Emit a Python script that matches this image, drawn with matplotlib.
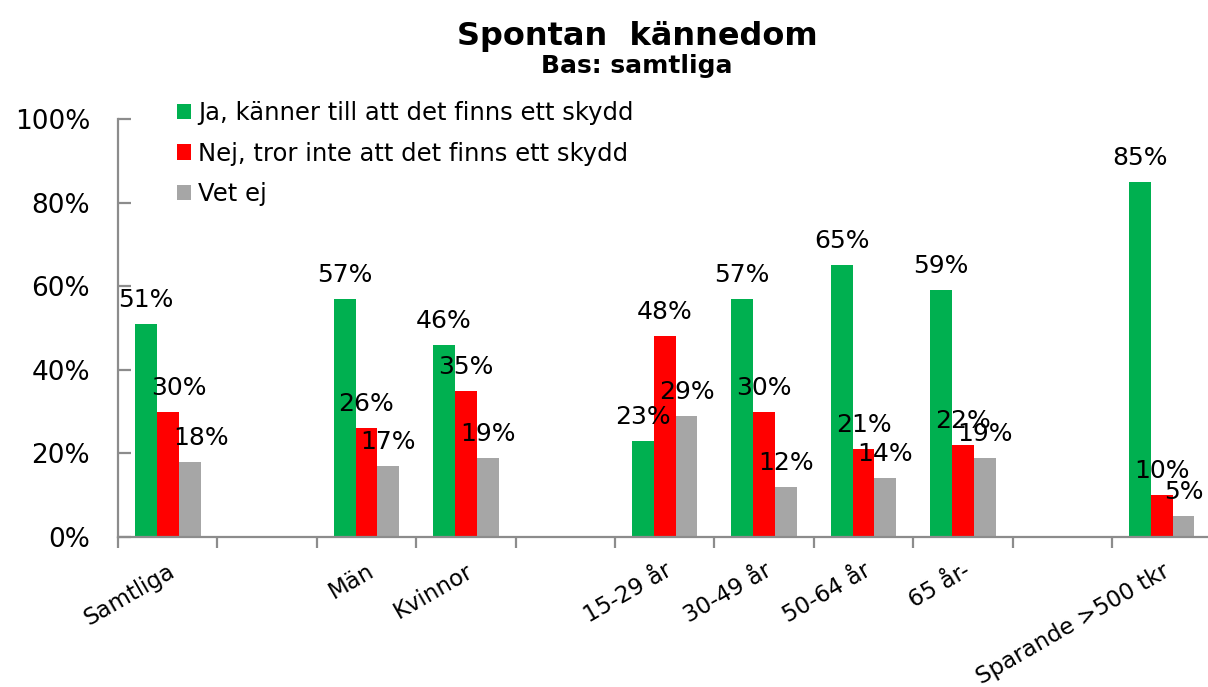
import numpy as np
import matplotlib
matplotlib.use('Agg')
import matplotlib.pyplot as plt

###  Data

categories = ['Samtliga', '', 'Män', 'Kvinnor', '', '15-29 år', '30-49 år',
              '50-64 år', '65 år-', '', 'Sparande >500 tkr']
ja  = [51, np.nan, 57, 46, np.nan, 23, 57, 65, 59, np.nan, 85]
nej = [30, np.nan, 26, 35, np.nan, 48, 30, 21, 22, np.nan, 10]
vet = [18, np.nan, 17, 19, np.nan, 29, 12, 14, 19, np.nan, 5]
series_names = ['Ja, känner till att det finns ett skydd',
                'Nej, tror inte att det finns ett skydd',
                'Vet ej']

###  Style

colors = ['#00B050', '#FF0000', '#A6A6A6']
axis_col = '#8C8C8C'
bar_w = 0.22
# (series, category) -> pixel shift of a value label that was moved by hand
nudge = {(1, 0): 11, (2, 0): 11}

fig = plt.figure(figsize=(12.08, 6.87), dpi=100)
ax = fig.add_axes([118/1208, 150/687, 1090/1208, 418/687])

x = np.arange(len(categories))
for k, vals in enumerate([ja, nej, vet]):
    pos = x + (k - 1) * bar_w
    ax.bar(pos, vals, width=bar_w, color=colors[k], edgecolor='none',
           label=series_names[k], zorder=2)
    for i, (xi, v) in enumerate(zip(pos, vals)):
        if np.isnan(v):
            continue
        ax.annotate('%d%%' % v, (xi, v), xytext=(nudge.get((k, i), 0), 12),
                    textcoords='offset pixels', ha='center', va='bottom',
                    fontsize=18, color='black', zorder=3)

ax.set_xlim(-0.5, 10.466)
ax.set_ylim(0, 100)

for s in ['top', 'right']:
    ax.spines[s].set_visible(False)
for s in ['left', 'bottom']:
    ax.spines[s].set_color(axis_col)
    ax.spines[s].set_linewidth(1.6)

ax.set_yticks(np.arange(0, 101, 20))
ax.set_yticklabels(['%d%%' % t for t in range(0, 101, 20)], fontsize=19)
ax.tick_params(axis='y', direction='in', length=9, width=1.6, color=axis_col, pad=20)

# boundaries get the tick marks, centres get the labels
ax.set_xticks(np.arange(-0.5, 10.0, 1.0))
ax.set_xticklabels([])
ax.tick_params(axis='x', which='major', direction='out', length=8, width=1.6, color=axis_col)
ax.set_xticks(x, minor=True)
ax.set_xticklabels(categories, minor=True, rotation=30, ha='right', va='top',
                   rotation_mode='anchor', fontsize=16.5)
ax.tick_params(axis='x', which='minor', length=0, pad=16)

leg = ax.legend(loc='upper left', bbox_to_anchor=(177/1208, 1 - 101/687),
                bbox_transform=fig.transFigure, frameon=False, fontsize=17.5,
                handlelength=0.58, handleheight=0.58, handletextpad=0.3,
                labelspacing=0.68, borderpad=0, borderaxespad=0)

fig.text(637/1208, 1 - 45/687, 'Spontan  kännedom', ha='center', va='baseline',
         fontsize=23, fontweight='bold')
fig.text(637/1208, 1 - 73/687, 'Bas: samtliga', ha='center', va='baseline',
         fontsize=18, fontweight='bold')

fig.savefig('out.png', dpi=100)
